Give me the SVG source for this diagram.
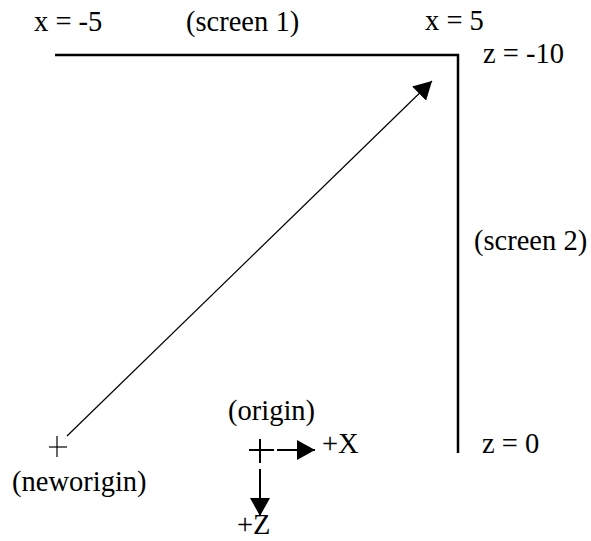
<svg xmlns="http://www.w3.org/2000/svg" width="591" height="541" viewBox="0 0 591 541">
<defs>
<style>
text{font-family:"Liberation Serif","Times New Roman",serif;font-size:28.5px;fill:#000}
.scr{fill:none;stroke:#000;stroke-width:2.5}
.thin{stroke:#000;stroke-width:1.2}
.thick{stroke:#000;stroke-width:2}
</style>
<marker id="ah" markerUnits="userSpaceOnUse" markerWidth="18" markerHeight="20" refX="18" refY="10" orient="auto">
<path d="M0,0 L18,10 L0,20 z" fill="#000"/>
</marker>
</defs>
<rect width="591" height="541" fill="#fff"/>
<g id="screens">
<path class="scr" d="M55,55 H458 V453"/>
<text x="34" y="31">x = -5</text>
<text x="186" y="31">(screen 1)</text>
<text x="425" y="30">x = 5</text>
<text x="483" y="63">z = -10</text>
<text x="474" y="250">(screen 2)</text>
<text x="482" y="453">z = 0</text>
</g>
<g id="neworigin">
<line class="thin" x1="49" y1="447" x2="67" y2="447"/>
<line class="thin" x1="57" y1="436" x2="57" y2="457"/>
<text x="12" y="491">(neworigin)</text>
</g>
<g id="origin">
<line class="thick" x1="249" y1="450" x2="274" y2="450"/>
<line class="thick" x1="260" y1="439" x2="260" y2="463"/>
<text x="228" y="420">(origin)</text>
<text x="322" y="453">+X</text>
<text x="237" y="534">+Z</text>
</g>
<g id="connectors">
<line class="thin" x1="67" y1="436" x2="432" y2="81" marker-end="url(#ah)"/>
<line class="thick" x1="277" y1="450" x2="315" y2="450" marker-end="url(#ah)"/>
<line class="thick" x1="260" y1="469" x2="260" y2="516" marker-end="url(#ah)"/>
</g>
</svg>
